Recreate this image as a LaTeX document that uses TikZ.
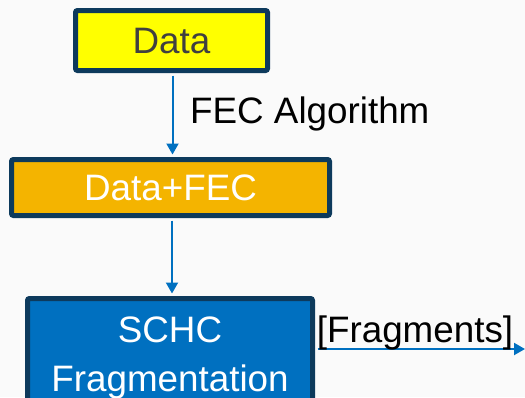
\documentclass[tikz,border=0pt]{standalone}
\usepackage{fontspec}
\setmainfont{Liberation Sans}
\usetikzlibrary{arrows.meta}
\definecolor{bg}{HTML}{FAFAFA}
\definecolor{navy}{HTML}{0D3A5C}
\definecolor{ylw}{HTML}{FFFF00}
\definecolor{gold}{HTML}{F4B400}
\definecolor{blu}{HTML}{0070C0}
\definecolor{dgray}{HTML}{404040}
\tikzset{
  box/.style={draw=navy, line width=5pt, rounded corners=2pt, inner sep=0pt,
    font=\fontsize{36.8}{48.5}\selectfont, text height=26pt, text depth=0pt, align=center},
  conn/.style={draw=blu, line width=2pt, -{Triangle[width=12pt,length=11pt]}},
  lbl/.style={inner sep=0pt, font=\fontsize{36.8}{48.5}\selectfont, text=black}
}
\begin{document}
\begin{tikzpicture}[x=1pt,y=-1pt]
\fill[bg] (0,0) rectangle (525,397);
\useasboundingbox (0,0) rectangle (525,397);
\clip (0,0) rectangle (525,397);
\node[box, fill=ylw, text=dgray, minimum width=192pt, minimum height=60pt] (data) at (171.5,40.5) {Data};
\node[box, fill=gold, text=white, minimum width=318pt, minimum height=56pt] (fec) at (170.5,187.5) {Data+FEC};
\node[box, fill=blu, text=white, minimum width=285pt, minimum height=111pt, text height=74.5pt] (schc) at (170,354) {SCHC\\Fragmentation};
\coordinate (out) at (525,349);
\draw[conn, shorten <=2.5pt, shorten >=2.5pt] ([xshift=1pt]data.south) -- ([xshift=1pt]data.south |- fec.north);
\draw[conn, shorten <=2.5pt, shorten >=2.5pt] ([xshift=1.5pt]fec.south) -- ([xshift=1.5pt]fec.south |- schc.north);
\draw[conn, shorten <=2.5pt] ([yshift=5pt]schc.east) -- (out);
\node[lbl, anchor=base west] (alg) at (190,123) {FEC Algorithm};
\node[lbl, anchor=base] (frag) at (415,342) {[Fragments]};
\end{tikzpicture}
\end{document}
